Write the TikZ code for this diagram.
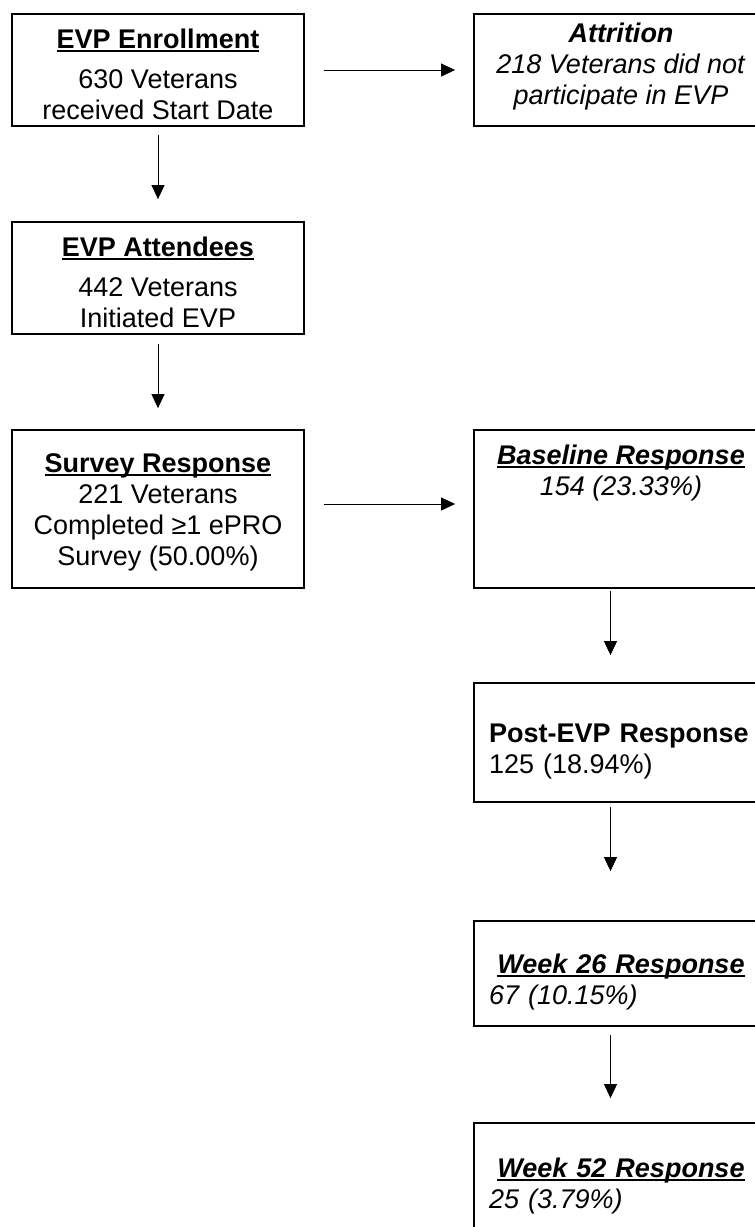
\documentclass[tikz,border=0pt]{standalone}
\usepackage{fontspec}
\setmainfont{Liberation Sans}
\usetikzlibrary{arrows.meta}

\newcommand{\undl}[1]{\setbox0\hbox{#1}\rlap{\rule[-3.5pt]{\wd0}{2pt}}\box0}
\newcommand{\hstrut}[1]{\rule{0pt}{#1}}
\newcommand{\dstrut}[1]{\rule[-#1]{0pt}{#1}}

\tikzset{
  flowbox/.style={draw, line width=1.8pt, inner sep=0pt, minimum height=112pt,
    font=\fontsize{27}{31}\selectfont, align=center},
  leftbox/.style={flowbox, minimum width=292pt},
  rightbox/.style={flowbox, minimum width=294pt},
  notebox/.style={rightbox, text width=264pt, align=left},
  flowarrow/.style={-{Triangle[length=14pt,width=13pt]}, line width=1pt}
}

\begin{document}
\begin{tikzpicture}[x=1pt,y=-1pt]
\useasboundingbox (0,0) rectangle (755,1227);
\clip (0,0) rectangle (755,1227);
\node[leftbox] (enrol) at (158,70)
  {\hstrut{29pt}\textbf{\undl{EVP Enrollment}}\\[9pt]630 Veterans\\received Start Date};
\node[leftbox] (attend) at (158,278)
  {\hstrut{28pt}\textbf{\undl{EVP Attendees}}\\[9pt]442 Veterans\\Initiated EVP};
\node[leftbox, minimum height=158pt] (survey) at (158,509)
  {\hstrut{26.5pt}\textbf{\undl{Survey Response}}\\221 Veterans\\Completed ≥1 ePRO\\Survey (50.00\%)};
\node[rightbox] (attr) at (621,70)
  {\textbf{\textit{Attrition}}\\\textit{218 Veterans did not}\\\textit{participate in EVP}\dstrut{12.5pt}};
\node[rightbox, minimum height=158pt, text depth=78pt] (base) at (621,509)
  {\textbf{\textit{\undl{Baseline Response}}}\\\textit{154 (23.33\%)}};
\node[notebox, minimum height=119pt] (post) at (621,742.5)
  {\hstrut{36pt}\textbf{Post-EVP Response}\\125 (18.94\%)};
\node[notebox, minimum height=105pt] (wk26) at (621,973.5)
  {\hstrut{37pt}\makebox[264pt]{\textbf{\textit{\undl{Week 26 Response}}}}\\\textit{67 (10.15\%)}};
\node[notebox, minimum height=109pt] (wk52) at (621,1177.5)
  {\hstrut{37pt}\makebox[264pt]{\textbf{\textit{\undl{Week 52 Response}}}}\\\textit{25 (3.79\%)}};
\draw[flowarrow, shorten <=19pt, shorten >=18pt] (enrol) -- (attr);
\draw[flowarrow, shorten <=19pt, shorten >=18pt] ([yshift=5pt]survey.east) -- ([yshift=5pt]base.west);
\foreach \a/\b/\s/\e/\dx in {enrol/attend/8/22/0, attend/survey/9/21/0,
    base/post/2/27/-10.5, post/wk26/4/49/-10.5, wk26/wk52/8/24/-10.5}
  \draw[flowarrow, shorten <=\s pt, shorten >=\e pt] ([xshift=\dx pt]\a.south) -- ([xshift=\dx pt]\b.north);
\end{tikzpicture}
\end{document}
